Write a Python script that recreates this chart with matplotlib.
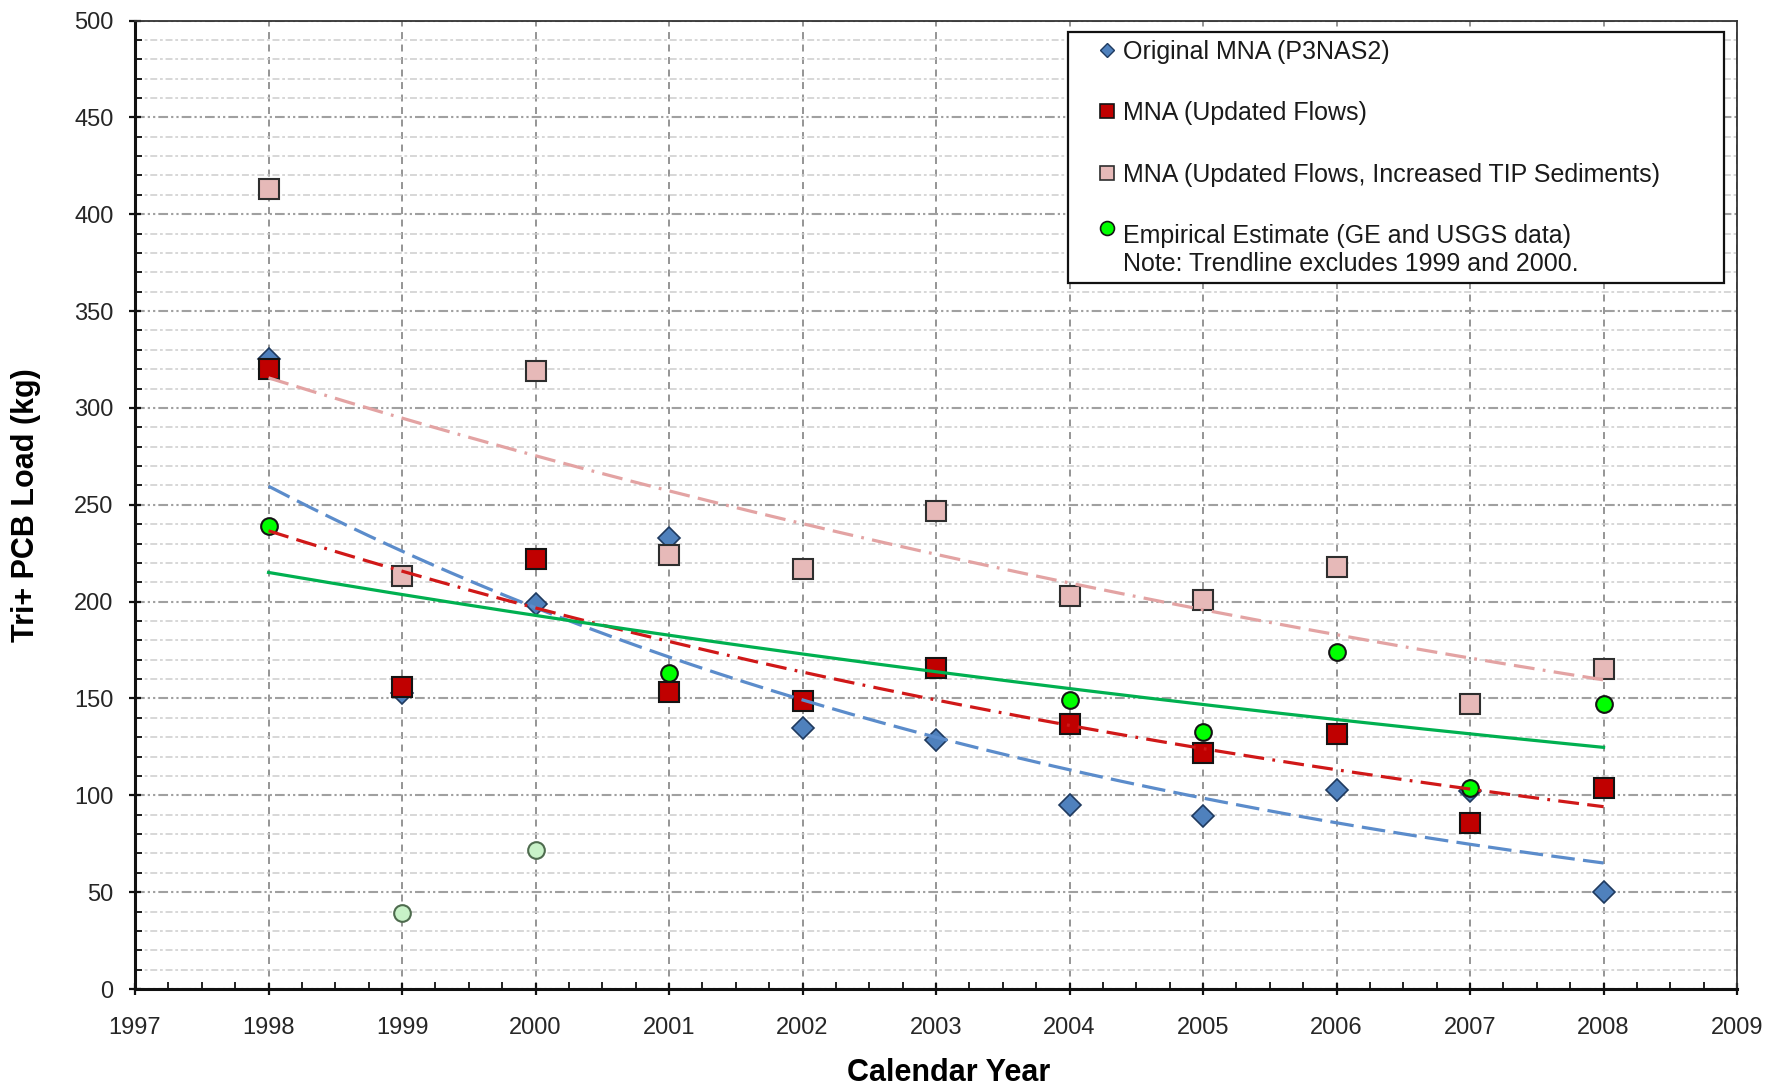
import numpy as np
import matplotlib
matplotlib.use("Agg")
import matplotlib.pyplot as plt
from matplotlib.lines import Line2D
from matplotlib.legend_handler import HandlerLine2D
from matplotlib.transforms import Affine2D
from matplotlib.ticker import MultipleLocator
from matplotlib.font_manager import FontProperties

# ---- data -------------------------------------------------------------
years = [1998, 1999, 2000, 2001, 2002, 2003, 2004, 2005, 2006, 2007, 2008]
original_mna = [325, 153, 199, 233, 135, 128.5, 95, 89.5, 103, 102, 50]
mna_updated_flows = [320, 156, 222, 153.5, 148.5, 165.5, 137, 122, 131.5, 85.5, 104]
mna_increased_tip = [413, 213, 319, 224, 217, 247, 203, 201, 218, 147, 165]
empirical_estimate = [239, 39, 72, 163, np.nan, np.nan, 149, 132.5, 174, 104, 147]
trend_excluded_years = [1999, 2000]

series_labels = [
    "Original MNA (P3NAS2)",
    "MNA (Updated Flows)",
    "MNA (Updated Flows, Increased TIP Sediments)",
    "Empirical Estimate (GE and USGS data)\nNote: Trendline excludes 1999 and 2000.",
]
x_ticks = list(range(1997, 2010))
y_ticks = list(range(0, 501, 50))

# ---- style ------------------------------------------------------------
plt.rcParams["font.family"] = ["Liberation Sans", "DejaVu Sans"]
plt.rcParams["lines.scale_dashes"] = False

BLUE, BLUE_EDGE, BLUE_TREND = "#4F81BD", "#1F3A5F", "#5B8CCB"
RED, RED_TREND = "#C00000", "#D01818"
PINK, PINK_EDGE, PINK_TREND = "#E6B9B8", "#2E2E2E", "#E3A3A3"
GREEN, GREEN_TREND = "#00FF00", "#00B050"

fig = plt.figure(figsize=(17.91, 10.86), dpi=100)
ax = fig.add_axes([0.0754, 0.0893, 0.8945, 0.8918])


def exp_trend(x, y, exclude=()):
    """Excel-style exponential trendline: least squares on log(y)."""
    x = np.asarray(x, float)
    y = np.asarray(y, float)
    keep = np.isfinite(y) & ~np.isin(x, exclude)
    slope, icpt = np.polyfit(x[keep] - x[0], np.log(y[keep]), 1)
    xs = np.linspace(x[0], x[-1], 200)
    return xs, np.exp(icpt + slope * (xs - x[0]))


yrs = np.asarray(years, float)
emp = np.asarray(empirical_estimate, float)
excl = np.isin(yrs, trend_excluded_years)

# markers
ax.plot(years, original_mna, ls="none", marker="D", ms=11.5, mfc=BLUE,
        mec=BLUE_EDGE, mew=1.2, zorder=3)
ax.plot(years, mna_updated_flows, ls="none", marker="s", ms=14, mfc=RED,
        mec="#141414", mew=1.5, zorder=3)
ax.plot(years, mna_increased_tip, ls="none", marker="s", ms=14, mfc=PINK,
        mec=PINK_EDGE, mew=1.5, zorder=3)
ax.plot(yrs[~excl], emp[~excl], ls="none", marker="o", ms=12, mfc=GREEN,
        mec="#141414", mew=1.5, zorder=3)
ax.plot(yrs[excl], emp[excl], ls="none", marker="o", ms=12, mfc="#C8F2C8",
        mec="#4E6B4E", mew=1.5, zorder=3)

# trendlines (drawn over the markers)
xs, ys = exp_trend(years, original_mna)
ax.plot(xs, ys, color=BLUE_TREND, lw=2.3, ls=(0, (17, 6)), zorder=4)
xs, ys = exp_trend(years, mna_updated_flows)
ax.plot(xs, ys, color=RED_TREND, lw=2.3, ls=(0, (15, 6, 15, 6, 2, 6)), zorder=4)
xs, ys = exp_trend(years, mna_increased_tip)
ax.plot(xs, ys, color=PINK_TREND, lw=2.3, ls=(0, (15, 6, 15, 6, 2, 6)), zorder=4)
xs, ys = exp_trend(years, empirical_estimate, exclude=trend_excluded_years)
ax.plot(xs, ys, color=GREEN_TREND, lw=2.3, ls="-", zorder=4)

# axes, ticks, grid
ax.set_xlim(x_ticks[0], x_ticks[-1])
ax.set_ylim(y_ticks[0], y_ticks[-1])
ax.set_xticks(x_ticks)
ax.set_yticks(y_ticks)
ax.xaxis.set_minor_locator(MultipleLocator(0.25))
ax.yaxis.set_minor_locator(MultipleLocator(10))

ax.set_axisbelow(True)
ax.yaxis.grid(True, which="major", color="#A0A0A0", lw=1.5,
              ls=(0, (7, 2.2, 1.6, 2.2, 1.6, 2.2)))
ax.yaxis.grid(True, which="minor", color="#CDCDCD", lw=1.1,
              ls=(0, (5, 2, 2, 2)))
ax.xaxis.grid(True, which="major", color="#8C8C8C", lw=1.3, ls=(0, (5, 4)))
ax.xaxis.grid(False, which="minor")

ax.tick_params(which="major", direction="inout", length=9, width=1.6,
               labelsize=17, colors="#111111", labelcolor="#262626")
ax.tick_params(axis="y", which="major", pad=11)
ax.tick_params(axis="x", which="major", pad=16)
ax.tick_params(which="minor", direction="in", length=5, width=1.3,
               colors="#111111")
ax.tick_params(top=False, right=False, which="both")

for side in ("left", "bottom"):
    ax.spines[side].set_linewidth(2.2)
    ax.spines[side].set_color("#111111")
for side in ("top", "right"):
    ax.spines[side].set_linewidth(1.3)
    ax.spines[side].set_color("#333333")

ax.set_xlabel("Calendar Year", fontsize=22, fontweight="bold", va="top")
ax.xaxis.set_label_coords(0.508, -0.071)
ax.set_ylabel("Tri+ PCB Load (kg)", fontsize=22, fontweight="bold")
ax.yaxis.set_label_coords(-0.059, 0.5)

# ---- legend -------------------------------------------------------------
LEG_FS = 18


class FirstLineHandler(HandlerLine2D):
    """Place the marker beside the first line of a multi-line label."""

    def __init__(self, extra_lines=0, **kw):
        super().__init__(**kw)
        self.extra_lines = extra_lines

    def create_artists(self, legend, orig_handle, xdescent, ydescent,
                       width, height, fontsize, trans):
        artists = super().create_artists(legend, orig_handle, xdescent,
                                         ydescent, width, height, fontsize,
                                         trans)
        if self.extra_lines:
            renderer = legend.get_figure(root=True).canvas.get_renderer()
            _, h, d = renderer.get_text_width_height_descent(
                "lp", FontProperties(family=plt.rcParams["font.family"],
                                     size=fontsize), ismath=False)
            dy = (h - d) * 1.2 * self.extra_lines
            for a in artists:
                a.set_transform(trans + Affine2D().translate(0, dy))
        return artists


handles = [
    Line2D([], [], ls="none", marker="D", ms=7.5, mfc=BLUE, mec=BLUE_EDGE, mew=1.0),
    Line2D([], [], ls="none", marker="s", ms=10, mfc=RED, mec="#141414", mew=1.2),
    Line2D([], [], ls="none", marker="s", ms=10, mfc=PINK, mec=PINK_EDGE, mew=1.2),
    Line2D([], [], ls="none", marker="o", ms=10, mfc=GREEN, mec="#141414", mew=1.2),
]
leg = ax.legend(
    handles, series_labels,
    loc="upper left", bbox_to_anchor=(0.5824, 0.0, 0.4095, 0.9881),
    mode="expand", borderaxespad=0, fontsize=LEG_FS,
    handlelength=2.5, handletextpad=-0.6, borderpad=0.3,
    labelspacing=1.5, fancybox=False, framealpha=1, edgecolor="#111111",
    handler_map={handles[3]: FirstLineHandler(extra_lines=1)},
)
leg.get_frame().set_linewidth(1.6)
for t in leg.get_texts():
    t.set_color("#1a1a1a")
leg.set_zorder(6)

fig.savefig("out.png", dpi=100)
